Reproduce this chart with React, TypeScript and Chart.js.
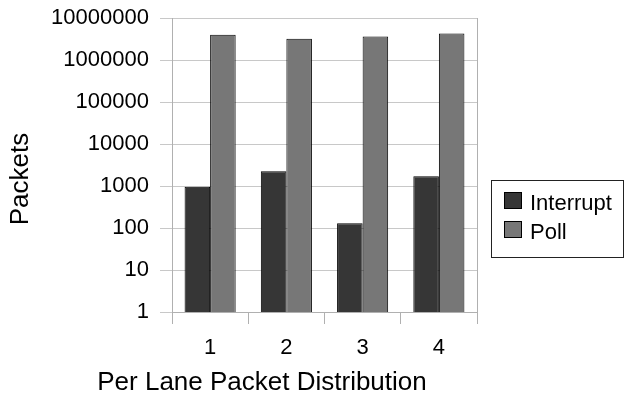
import React, { useEffect, useRef } from "react";
import { Chart, registerables } from "chart.js";

Chart.register(...registerables);

const categories = ["1", "2", "3", "4"];
const interruptValues = [960, 2250, 130, 1700];
const pollValues = [4000000, 3200000, 3650000, 4300000];
const yTickValues = [1, 10, 100, 1000, 10000, 100000, 1000000, 10000000];
const seriesNames = ["Interrupt", "Poll"];
const seriesColors = ["#363636", "#777777"];
const xTitle = "Per Lane Packet Distribution";
const yTitle = "Packets";

const FONT = '"Liberation Sans", Arial, sans-serif';

const framePlugin = {
  id: "frameAndLegend",
  afterDraw(chart: any) {
    const { ctx, chartArea } = chart;
    ctx.save();
    // right border of plot area
    ctx.strokeStyle = "#b0b0b0";
    ctx.lineWidth = 1;
    const rx = Math.round(chartArea.right) + 0.5;
    ctx.beginPath();
    ctx.moveTo(rx, Math.round(chartArea.top));
    ctx.lineTo(rx, Math.round(chartArea.bottom));
    ctx.stroke();

    // axis titles
    ctx.fillStyle = "#000000";
    ctx.font = `26px ${FONT}`;
    ctx.textAlign = "center";
    ctx.textBaseline = "middle";
    ctx.fillText(xTitle, 262, 383);
    ctx.save();
    ctx.translate(21, 179);
    ctx.rotate(-Math.PI / 2);
    ctx.fillText(yTitle, 0, 0);
    ctx.restore();

    // legend
    const lx = Math.round(chartArea.right) + 14;
    const ly = 180;
    const lw = 623 - lx;
    const lh = 77;
    ctx.strokeStyle = "#222222";
    ctx.strokeRect(lx + 0.5, ly + 0.5, lw, lh);
    ctx.font = `22px ${FONT}`;
    ctx.textBaseline = "alphabetic";
    ctx.textAlign = "left";
    chart.data.datasets.forEach((ds: any, i: number) => {
      const sy = ly + 12 + i * 29;
      ctx.fillStyle = ds.backgroundColor;
      ctx.fillRect(lx + 13, sy, 18, 17);
      ctx.strokeStyle = "#000000";
      ctx.strokeRect(lx + 13.5, sy + 0.5, 17, 16);
      ctx.fillStyle = "#000000";
      ctx.fillText(ds.label, lx + 39, sy + 18);
    });
    ctx.restore();
  },
};

export default function App() {
  const ref = useRef<HTMLCanvasElement | null>(null);
  useEffect(() => {
    if (!ref.current) return;
    const chart = new Chart(ref.current, {
      type: "bar",
      data: {
        labels: categories,
        datasets: [
          {
            label: seriesNames[0],
            data: interruptValues,
            backgroundColor: seriesColors[0],
            borderColor: "#000000",
            borderWidth: 1,
            categoryPercentage: 0.67,
            barPercentage: 1.0,
          },
          {
            label: seriesNames[1],
            data: pollValues,
            backgroundColor: seriesColors[1],
            borderColor: "#000000",
            borderWidth: 1,
            categoryPercentage: 0.67,
            barPercentage: 1.0,
          },
        ],
      },
      options: {
        responsive: false,
        animation: false,
        devicePixelRatio: 1,
        layout: { padding: { top: 18, right: 147, left: 0, bottom: 0 } },
        plugins: {
          legend: { display: false },
          tooltip: { enabled: false },
        },
        scales: {
          x: {
            grid: {
              display: true,
              drawOnChartArea: false,
              drawTicks: true,
              tickLength: 12,
              offset: true,
              color: "#b0b0b0",
            },
            border: { display: true, color: "#b0b0b0" },
            ticks: {
              color: "#000000",
              padding: 11,
              font: { family: FONT, size: 22 },
            },
            title: { display: false },
            afterFit(scale: any) {
              scale.height = 84;
              scale.paddingLeft = 0;
              scale.paddingRight = 0;
            },
          },
          y: {
            type: "logarithmic",
            min: 1,
            max: 10000000,
            grid: {
              color: "#c8c8c8",
              tickLength: 12,
              drawTicks: true,
            },
            border: { display: true, color: "#b0b0b0" },
            afterBuildTicks(scale: any) {
              scale.ticks = yTickValues.map((v) => ({ value: v }));
            },
            ticks: {
              color: "#000000",
              padding: 11,
              font: { family: FONT, size: 22 },
              callback: (v: any) => String(v),
            },
            title: { display: false },
            afterFit(scale: any) {
              scale.width = 172;
              scale.paddingTop = 0;
              scale.paddingBottom = 0;
            },
          },
        },
      },
      plugins: [framePlugin],
    } as any);
    return () => chart.destroy();
  }, []);
  return (
    <div style={{ position: "fixed", left: 0, top: 0, width: 624, height: 396, background: "#ffffff" }}>
      <canvas ref={ref} width={624} height={396} style={{ display: "block" }} />
    </div>
  );
}
